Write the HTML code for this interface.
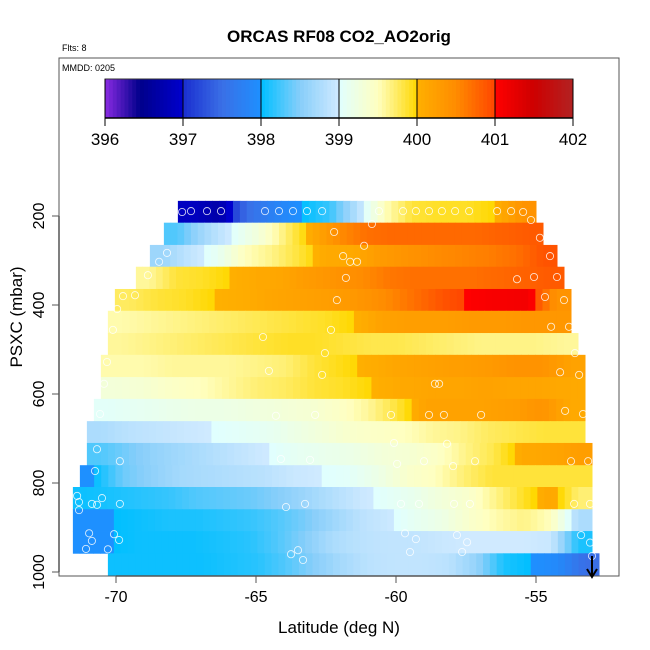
<!DOCTYPE html>
<html><head><meta charset="utf-8"><style>
html,body{margin:0;padding:0;background:#fff;}
svg{display:block;font-family:"Liberation Sans",Arial,sans-serif;}
</style></head><body>
<svg id="chart" width="650" height="650" viewBox="0 0 650 650" xmlns="http://www.w3.org/2000/svg">
<rect width="650" height="650" fill="#fff"/>
<defs id="defs"></defs>
<text x="339" y="42" text-anchor="middle" font-size="17" font-weight="bold">ORCAS RF08 CO2_AO2orig</text>
<text x="62" y="51" font-size="9">Flts: 8</text>
<g id="heat"></g>
<g id="pts"></g>
<rect x="59" y="58" width="560" height="518" fill="none" stroke="#555" stroke-width="1"/>
<text x="62" y="71" font-size="9">MMDD: 0205</text>
<g id="cbar"></g>
<g id="axes"></g>
<text x="339" y="633" text-anchor="middle" font-size="17">Latitude (deg N)</text>
<text transform="translate(22,317) rotate(-90)" text-anchor="middle" font-size="17">PSXC (mbar)</text>
<g>
<line x1="592" y1="556" x2="592" y2="576" stroke="#000" stroke-width="2"/>
<polyline points="587,569 592,577 597,569" fill="none" stroke="#000" stroke-width="2"/>
</g>
</svg>
<script>
// ---- data ----
const rowPressureTop = [166,215,265,314,364,413,463,512,562,611,661,710,760,809,859,908,958];
const rowPressureBottom = [215,265,314,364,413,463,512,562,611,661,710,760,809,859,908,958,1009];
const rowLatStart = [-67.79,-68.29,-68.79,-69.29,-70.04,-70.29,-70.29,-70.54,-70.54,-70.79,-71.04,-71.04,-71.29,-71.54,-71.54,-71.54,-70.29];
const rowLatEnd = [-55.0,-54.75,-54.25,-54.0,-53.75,-53.75,-53.5,-53.25,-53.25,-53.25,-53.25,-53.0,-53.0,-53.0,-53.0,-53.0,-52.75];
const row0 = [396.9,396.7,397.5,397.8,398.0,398.2,398.8,399.5,399.85,399.9,399.9,400.0,400.4];
const row1 = [398.3,398.7,399.0,399.3,399.7,400.1,400.5,400.7,400.75,400.75,400.75,400.75,400.8,400.85];
const row2 = [398.65,398.9,399.1,399.5,399.65,399.85,400.1,400.1,400.3,400.4,400.5,400.55,400.6,400.7,400.9];
const row3 = [399.6,399.85,399.9,400.0,400.1,400.15,400.3,400.4,400.5,400.65,400.7,400.7,400.7,400.75,400.8,400.85];
const row4 = [399.75,399.85,399.9,400.0,400.05,400.15,400.2,400.25,400.35,400.5,400.7,400.9,401.02,401.08,401.12,400.4];
const row5 = [399.55,399.6,399.65,399.7,399.75,399.8,399.85,399.9,400.0,400.2,400.25,400.25,400.3,400.3,400.35,400.35];
const row6 = [399.6,399.65,399.7,399.75,399.8,399.85,399.9,399.9,399.85,399.8,399.8,399.75,399.7,399.65,399.65,399.65,399.6];
const row7 = [399.55,399.55,399.6,399.6,399.6,399.65,399.7,399.85,399.95,400.05,400.15,400.2,400.25,400.3,400.4,400.4,400.2];
const row8 = [399.3,399.35,399.45,399.5,399.6,399.7,399.75,399.85,399.9,400.0,400.1,400.15,400.15,400.2,400.15,400.15,400.1];
const row9 = [399.05,399.1,399.15,399.2,399.2,399.25,399.3,399.35,399.45,399.6,399.85,400.2,400.2,400.2,400.25,400.4,400.1];
const row10 = [398.75,398.85,398.9,398.95,399.0,399.05,399.1,399.2,399.3,399.4,399.45,399.5,399.6,399.65,399.75,399.8,399.85,399.85];
const row11 = [398.3,398.45,398.6,398.7,398.8,398.9,399.0,399.1,399.15,399.2,399.3,399.35,399.45,399.65,399.8,400.1,400.15,400.25];
const row12 = [398.0,398.4,398.55,398.7,398.75,398.8,398.85,398.95,399.0,399.05,399.2,399.4,399.5,399.7,399.85,399.85,399.85,399.85];
const row13 = [398.05,398.1,398.15,398.2,398.3,398.35,398.4,398.5,398.65,398.8,398.95,399.05,399.15,399.3,399.4,399.65,399.9,400.15,399.7];
const row14 = [398.0,398.0,398.05,398.1,398.1,398.15,398.2,398.3,398.45,398.65,398.85,398.95,399.1,399.2,399.4,399.55,399.65,399.5,398.75];
const row15 = [398.0,398.0,398.05,398.05,398.05,398.1,398.15,398.3,398.5,398.75,398.85,398.9,398.9,398.95,399.0,399.0,399.0,398.95,398.1];
const row16 = [398.05,398.05,398.05,398.05,398.1,398.15,398.3,398.5,398.7,398.85,398.9,398.9,398.85,398.6,398.1,398.0,397.9,397.5];
const rowValues = [row0,row1,row2,row3,row4,row5,row6,row7,row8,row9,row10,row11,row12,row13,row14,row15,row16];
const pointLat = [-67.64,-67.32,-66.75,-66.25,-64.68,-64.18,-63.68,-63.18,-62.64,-60.61,-59.75,-59.29,-58.82,-58.36,-57.89,-57.39,-56.39,-55.89,-55.46,-55.18,-60.86,-62.21,-54.86,-61.14,-61.89,-61.64,-61.39,-54.5,-68.18,-68.46,-68.86,-61.79,-55.68,-55.07,-54.25,-69.75,-69.32,-62.11,-54.68,-54.0,-69.96,-62.32,-54.46,-53.82,-70.11,-64.75,-62.54,-53.61,-70.32,-64.54,-62.64,-54.14,-53.46,-58.61,-58.46,-70.43,-70.57,-64.29,-62.89,-60.18,-58.82,-58.29,-56.96,-53.96,-53.32,-70.68,-60.07,-58.18,-69.86,-64.11,-63.07,-59.96,-59.0,-57.96,-57.18,-53.75,-53.14,-70.75,-71.39,-71.32,-70.86,-70.68,-70.5,-69.86,-63.93,-63.25,-59.82,-59.18,-57.93,-57.36,-53.64,-53.07,-71.32,-70.96,-70.86,-71.07,-70.29,-69.89,-70.07,-63.75,-63.5,-63.32,-59.68,-59.29,-57.82,-57.46,-53.39,-53.07,-59.5,-57.64,-53.0];
const pointPres = [191,189,189,189,189,189,189,189,189,189,189,189,189,189,189,189,189,189,191,209,218,236,249,267,290,303,303,290,283,303,333,339,342,337,337,380,378,389,382,389,409,456,449,449,456,472,508,508,528,548,557,551,557,577,577,577,645,649,647,647,647,647,647,638,645,724,710,712,751,746,748,757,751,762,751,751,751,773,829,861,847,849,834,847,854,847,847,847,847,847,847,847,843,913,930,948,949,928,915,960,951,973,913,926,917,933,917,934,955,955,964,971,986];
const colorStops = [[396,"#8a2be2"],[396.45,"#00008b"],[397,"#0000cd"],[397.001,"#1a2ed0"],[397.5,"#3a6fe6"],[398,"#1e90ff"],[398.001,"#00bfff"],[398.5,"#87cefa"],[399,"#d0eaff"],[399.001,"#e0ffff"],[399.5,"#ffffc0"],[400,"#ffd700"],[400.001,"#ffb000"],[400.5,"#ff8c00"],[401,"#ff4500"],[401.001,"#ff0000"],[401.5,"#cd0000"],[402,"#b22222"]];
const cbTicks = [396,397,398,399,400,401,402];
const xTicks = [-70,-65,-60,-55];
const yTicks = [200,400,600,800,1000];

// ---- scales ----
const NS = "http://www.w3.org/2000/svg";
const xScale = lat => 116 + (lat + 70) * 28;
const yScale = p => 216 + (p - 200) * 0.445;
const cbScale = v => 105 + (v - 396) * 78;
function hex(c){return [parseInt(c.slice(1,3),16),parseInt(c.slice(3,5),16),parseInt(c.slice(5,7),16)];}
function colorOf(v){
  if(v<=colorStops[0][0]) return colorStops[0][1];
  for(let i=1;i<colorStops.length;i++){
    if(v<=colorStops[i][0]){
      const a=colorStops[i-1], b=colorStops[i];
      const t=(v-a[0])/(b[0]-a[0]); const ca=hex(a[1]), cb=hex(b[1]);
      return "rgb("+ca.map((x,k)=>Math.round(x+(cb[k]-x)*t)).join(",")+")";
    }
  }
  return colorStops[colorStops.length-1][1];
}
function mk(tag, attrs, parent){
  const el=document.createElementNS(NS,tag);
  for(const k in attrs) el.setAttribute(k, attrs[k]);
  parent.appendChild(el); return el;
}

// ---- heatmap: small sub-cells interpolated between row samples ----
const heat=document.getElementById("heat");
const SUB=4;
rowValues.forEach((vals,r)=>{
  const lo=rowLatStart[r], hi=rowLatEnd[r], n=vals.length, w=(hi-lo)/n;
  const y0=yScale(rowPressureTop[r]), y1=yScale(rowPressureBottom[r]);
  for(let i=0;i<n;i++){
    for(let s=0;s<SUB;s++){
      const pos=i+(s+0.5)/SUB-0.5; // position in cell-center units
      const a=Math.max(0,Math.min(n-1,Math.floor(pos))), b=Math.min(n-1,a+1);
      const t=Math.max(0,Math.min(1,pos-a));
      const v=vals[a]+(vals[b]-vals[a])*t;
      const x0=xScale(lo+(i+s/SUB)*w), x1=xScale(lo+(i+(s+1)/SUB)*w);
      const rc=mk("rect",{x:x0.toFixed(2),y:y0.toFixed(2),width:(x1-x0+0.5).toFixed(2),height:(y1-y0+0.4).toFixed(2),fill:colorOf(v)},heat);
      
      
    }
  }
});

// ---- points ----
const pts=document.getElementById("pts");
pointLat.forEach((lat,i)=>{
  const c=mk("circle",{cx:xScale(lat).toFixed(1),cy:yScale(pointPres[i]).toFixed(1),r:3.6,fill:"none",stroke:"#fff","stroke-opacity":0.8,"stroke-width":0.9},pts);
  
  
});

// ---- colorbar ----
const cbar=document.getElementById("cbar");
for(let v=396;v<402;v+=0.05){
  const seg=mk("rect",{x:cbScale(v).toFixed(2),y:79,width:(0.05*78+0.5).toFixed(2),height:39,fill:colorOf(v+0.025)},cbar);
  
  
}
const cbFrame=mk("rect",{x:105,y:79,width:468,height:39,fill:"none",stroke:"#333","stroke-width":1},cbar);


cbTicks.forEach(t=>{
  const x=cbScale(t);
  mk("line",{x1:x,y1:79,x2:x,y2:126,stroke:"#000","stroke-width":1},cbar);
  const tx=mk("text",{x:x,y:145,"text-anchor":"middle","font-size":17},cbar);
  tx.textContent=String(t);
  
  
});
mk("line",{x1:105,y1:118,x2:573,y2:118,stroke:"#000","stroke-width":1.5},cbar);

// ---- axes ----
const axes=document.getElementById("axes");
mk("line",{x1:59,y1:yScale(200),x2:59,y2:yScale(1000),stroke:"#555","stroke-width":1.5},axes);
mk("line",{x1:xScale(-70),y1:576,x2:xScale(-55),y2:576,stroke:"#555","stroke-width":1.5},axes);
xTicks.forEach(t=>{
  const x=xScale(t);
  mk("line",{x1:x,y1:576,x2:x,y2:583,stroke:"#555"},axes);
  const tx=mk("text",{x:x,y:602,"text-anchor":"middle","font-size":16},axes);
  tx.textContent=String(t);
  
  
});
yTicks.forEach(t=>{
  const y=yScale(t);
  mk("line",{x1:52,y1:y,x2:59,y2:y,stroke:"#555"},axes);
  const tx=mk("text",{transform:"translate(44,"+y+") rotate(-90)","text-anchor":"middle","font-size":16},axes);
  tx.textContent=String(t);
  
  
});
</script>
</body></html>
